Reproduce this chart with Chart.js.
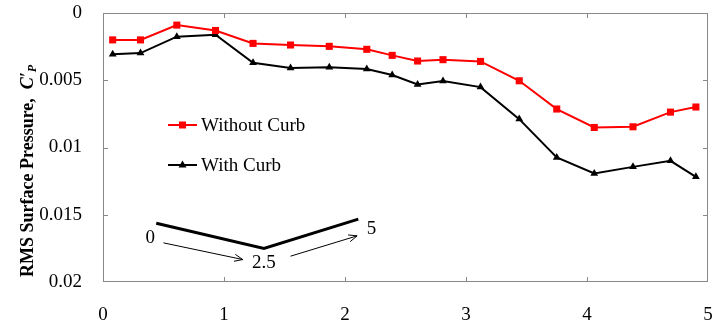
<!doctype html>
<html lang="en">
<head>
<meta charset="utf-8">
<title>RMS Surface Pressure</title>
<script src="https://cdn.jsdelivr.net/npm/chart.js"></script>
<style>
    html, body { margin: 0; padding: 0; background: #fff; }
</style>
</head>
<body>
<canvas id="cp-chart" width="714" height="329"></canvas>
<script>
    // DATA
    const stations = [0.08, 0.31, 0.61, 0.93, 1.24, 1.55, 1.87, 2.18, 2.39, 2.60, 2.81, 3.12, 3.44, 3.75, 4.06, 4.38, 4.69, 4.90]
    const withoutCurb = [0.0020, 0.0020, 0.0009, 0.0013, 0.00226, 0.00238, 0.00248, 0.0027, 0.00315, 0.00357, 0.00347, 0.0036, 0.00504, 0.00714, 0.00851, 0.00846, 0.00737, 0.00699]
    const withCurb = [0.00307, 0.00298, 0.00176, 0.00161, 0.0037, 0.00409, 0.00404, 0.00417, 0.00461, 0.00531, 0.00506, 0.00551, 0.00789, 0.01074, 0.01193, 0.01144, 0.01099, 0.01218]
    const xTicks = [0, 1, 2, 3, 4, 5]
    const yTicks = [0, 0.005, 0.01, 0.015, 0.02]

    // curb sketch, in data units (x, Cp)
    const curbProfile = [[0.44, 0.01563], [1.33, 0.01751], [2.11, 0.01533]]
    const curbLabels = [['0', 0.39, 0.01676], ['2.5', 1.33, 0.01862], ['5', 2.22, 0.01609]]
    const curbArrows = [[[0.50, 0.01709], [1.155, 0.01833]], [[1.55, 0.01808], [2.10, 0.01657]]]

    const FONT = '"Liberation Serif", "Times New Roman", serif'
    const AXIS_GRAY = '#898989'

    function toXY(data) {
        return stations.map((x, i) => ({x: x, y: data[i]}))
    }

    function drawMarker(ctx, style, x, y, color) {
        ctx.fillStyle = color
        ctx.beginPath()
        if (style === 'rect') {
            ctx.rect(x - 3.5, y - 3.5, 7, 7)
        } else {
            ctx.moveTo(x, y - 4.5)
            ctx.lineTo(x + 4, y + 2.5)
            ctx.lineTo(x - 4, y + 2.5)
            ctx.closePath()
        }
        ctx.fill()
    }

    function noPad(s) {
        s.paddingTop = 0
        s.paddingBottom = 0
        s.paddingLeft = 0
        s.paddingRight = 0
    }

    // frame + inside tick marks, legend, axis title, curb sketch
    const decorations = {
        id: 'decorations',
        afterDraw(chart) {
            const ctx = chart.ctx
            const a = chart.chartArea
            const xs = chart.scales.x
            const ys = chart.scales.y
            ctx.save()

            // FRAME
            ctx.strokeStyle = AXIS_GRAY
            ctx.lineWidth = 1
            ctx.strokeRect(a.left + 0.5, a.top + 0.5, a.right - a.left - 1, a.bottom - a.top - 1)
            ctx.beginPath()
            xTicks.slice(1, -1).forEach(v => {
                const px = Math.round(xs.getPixelForValue(v)) + 0.5
                ctx.moveTo(px, a.bottom); ctx.lineTo(px, a.bottom - 5)
                ctx.moveTo(px, a.top); ctx.lineTo(px, a.top + 5)
            })
            yTicks.slice(1, -1).forEach(v => {
                const py = Math.round(ys.getPixelForValue(v)) + 0.5
                ctx.moveTo(a.left, py); ctx.lineTo(a.left + 5, py)
                ctx.moveTo(a.right, py); ctx.lineTo(a.right - 5, py)
            })
            ctx.stroke()

            // LEGEND
            ctx.font = '19px ' + FONT
            ctx.textBaseline = 'middle'
            chart.data.datasets.forEach((ds, i) => {
                const ly = a.top + 112 + i * 40
                const lx = a.left + 65
                ctx.strokeStyle = ds.borderColor
                ctx.lineWidth = 2
                ctx.beginPath()
                ctx.moveTo(lx, ly); ctx.lineTo(lx + 29, ly)
                ctx.stroke()
                drawMarker(ctx, ds.pointStyle, lx + 14.5, ly, ds.borderColor)
                ctx.fillStyle = '#000'
                ctx.fillText(ds.label, lx + 33, ly + 1)
            })

            // CURB SKETCH
            ctx.strokeStyle = '#000'
            ctx.lineWidth = 3
            ctx.beginPath()
            curbProfile.forEach((p, i) => {
                const px = xs.getPixelForValue(p[0]), py = ys.getPixelForValue(p[1])
                if (i === 0) ctx.moveTo(px, py); else ctx.lineTo(px, py)
            })
            ctx.stroke()

            ctx.lineWidth = 1
            curbArrows.forEach(ar => {
                const x0 = xs.getPixelForValue(ar[0][0]), y0 = ys.getPixelForValue(ar[0][1])
                const x1 = xs.getPixelForValue(ar[1][0]), y1 = ys.getPixelForValue(ar[1][1])
                const ang = Math.atan2(y1 - y0, x1 - x0)
                ctx.beginPath()
                ctx.moveTo(x0, y0); ctx.lineTo(x1, y1)
                ctx.moveTo(x1 - 9 * Math.cos(ang - 0.4), y1 - 9 * Math.sin(ang - 0.4))
                ctx.lineTo(x1, y1)
                ctx.lineTo(x1 - 9 * Math.cos(ang + 0.4), y1 - 9 * Math.sin(ang + 0.4))
                ctx.stroke()
            })

            ctx.fillStyle = '#000'
            ctx.textAlign = 'center'
            curbLabels.forEach(l => {
                ctx.fillText(l[0], xs.getPixelForValue(l[1]), ys.getPixelForValue(l[2]))
            })

            // Y AXIS TITLE
            ctx.translate(28, 277)
            ctx.rotate(-Math.PI / 2)
            ctx.textAlign = 'left'
            ctx.font = 'bold 18px ' + FONT
            const t1 = 'RMS Surface Pressure,  '
            ctx.fillText(t1, 0, 0)
            let w = ctx.measureText(t1).width
            ctx.font = 'italic bold 18px ' + FONT
            ctx.fillText('C\u2032', w, 0)
            w += ctx.measureText('C\u2032').width
            ctx.font = 'italic bold 12px ' + FONT
            ctx.fillText('P', w, 5)

            ctx.restore()
        }
    }

    const chart = new Chart(document.getElementById('cp-chart').getContext('2d'), {
        type: 'line',
        plugins: [decorations],
        data: {
            datasets: [{
                label: 'Without Curb',
                data: toXY(withoutCurb),
                borderColor: '#ff0000',
                backgroundColor: '#ff0000',
                borderWidth: 2,
                pointStyle: 'rect',
                pointRadius: 5,
                pointBorderWidth: 0,
                tension: 0
            }, {
                label: 'With Curb',
                data: toXY(withCurb),
                borderColor: '#000000',
                backgroundColor: '#000000',
                borderWidth: 2,
                pointStyle: 'triangle',
                pointRadius: 4.5,
                pointBorderWidth: 0,
                tension: 0
            }]
        },
        options: {
            responsive: false,
            animation: false,
            devicePixelRatio: 1,
            layout: {padding: {top: 13, right: 6, left: 0, bottom: 0}},
            plugins: {
                legend: {display: false},
                tooltip: {enabled: false}
            },
            scales: {
                x: {
                    type: 'linear',
                    min: 0,
                    max: 5,
                    afterBuildTicks: s => { s.ticks = xTicks.map(v => ({value: v})) },
                    afterFit: s => { s.height = 47; noPad(s) },
                    grid: {display: false, drawTicks: false},
                    border: {display: false},
                    ticks: {
                        color: '#000',
                        padding: 22,
                        maxRotation: 0,
                        font: {family: FONT, size: 19},
                        callback: v => String(v)
                    }
                },
                y: {
                    type: 'linear',
                    reverse: true,
                    min: 0,
                    max: 0.02,
                    afterBuildTicks: s => { s.ticks = yTicks.map(v => ({value: v})) },
                    afterFit: s => { s.width = 103; noPad(s) },
                    grid: {display: false, drawTicks: false},
                    border: {display: false},
                    ticks: {
                        color: '#000',
                        padding: 21,
                        font: {family: FONT, size: 19},
                        callback: v => String(+v.toFixed(4))
                    }
                }
            }
        }
    })
</script>
</body>
</html>
